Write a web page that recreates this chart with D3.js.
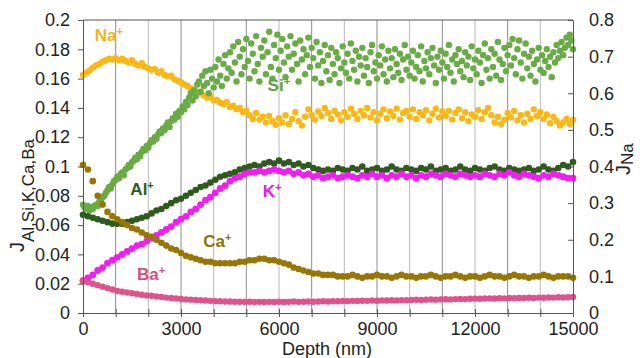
<!DOCTYPE html>
<html>
<head>
<meta charset="utf-8">
<script src="https://cdn.jsdelivr.net/npm/d3@7"></script>
<style>
  body { margin: 0; background: #fff; }
  svg { display: block; }
  text { font-family: "Liberation Sans", Arial, sans-serif; }
</style>
</head>
<body>
<svg id="chart"></svg>
<script>
// depth sampling (nm) for each series
var stepMain = 150, stepNa = 100, stepSi = 50;

// J_Ba (left axis)
var ba = [0.022,0.021,0.020,0.019,0.018,0.017,0.016,0.015,0.0145,0.014,
  0.0135,0.013,0.0125,0.012,0.0118,0.0113,0.011,0.0105,0.0102,0.0099,
  0.0096,0.0093,0.0091,0.0089,0.0087,0.0085,0.0083,0.0081,0.0080,0.0079,
  0.0078,0.0077,0.0077,0.0076,0.0077,0.0075,0.0076,0.0075,0.0076,0.0075,
  0.0077,0.0075,0.0076,0.0078,0.0076,0.0077,0.0079,0.0077,0.0078,0.0080,
  0.0079,0.0081,0.0080,0.0082,0.0081,0.0083,0.0082,0.0084,0.0083,0.0085,
  0.0084,0.0086,0.0085,0.0087,0.0086,0.0088,0.0087,0.0089,0.0090,0.0089,
  0.0091,0.0092,0.0091,0.0093,0.0094,0.0093,0.0095,0.0096,0.0095,0.0097,
  0.0098,0.0097,0.0099,0.0100,0.0099,0.0101,0.0100,0.0102,0.0101,0.0103,
  0.0102,0.0104,0.0103,0.0105,0.0104,0.0106,0.0105,0.0107,0.0106,0.0108,
  0.0110];

// J_Ca (left axis)
var ca = [0.101,0.098,0.090,0.080,0.074,0.069,0.066,0.064,0.062,0.060,
  0.058,0.057,0.055,0.053,0.052,0.050,0.048,0.046,0.044,0.043,
  0.041,0.039,0.038,0.037,0.036,0.035,0.035,0.034,0.034,0.034,
  0.034,0.034,0.035,0.035,0.036,0.036,0.037,0.037,0.036,0.036,
  0.035,0.034,0.033,0.031,0.030,0.029,0.028,0.027,0.027,0.026,
  0.026,0.026,0.025,0.025,0.025,0.026,0.025,0.024,0.025,0.025,
  0.026,0.025,0.025,0.024,0.025,0.026,0.025,0.025,0.024,0.025,
  0.025,0.026,0.025,0.024,0.025,0.025,0.026,0.025,0.024,0.025,
  0.025,0.024,0.025,0.026,0.025,0.025,0.024,0.025,0.026,0.025,
  0.025,0.024,0.025,0.025,0.026,0.025,0.024,0.025,0.025,0.025,
  0.024];

// J_K (left axis)
var k = [0.022,0.024,0.026,0.029,0.031,0.034,0.036,0.038,0.040,0.042,
  0.044,0.046,0.047,0.049,0.051,0.053,0.055,0.057,0.059,0.062,
  0.064,0.066,0.069,0.071,0.074,0.077,0.079,0.082,0.085,0.087,
  0.090,0.092,0.093,0.095,0.096,0.096,0.097,0.096,0.097,0.098,
  0.097,0.096,0.097,0.095,0.096,0.094,0.095,0.093,0.094,0.092,
  0.093,0.094,0.092,0.093,0.094,0.093,0.092,0.094,0.093,0.095,
  0.093,0.094,0.092,0.094,0.093,0.095,0.093,0.094,0.092,0.094,
  0.093,0.095,0.094,0.093,0.095,0.094,0.093,0.095,0.094,0.093,
  0.094,0.093,0.095,0.094,0.093,0.095,0.094,0.096,0.094,0.093,
  0.095,0.094,0.093,0.092,0.094,0.093,0.095,0.094,0.093,0.092,
  0.092];

// J_Al (left axis)
var al = [0.067,0.066,0.065,0.064,0.063,0.062,0.061,0.061,0.061,0.062,
  0.063,0.064,0.065,0.066,0.068,0.070,0.071,0.073,0.075,0.077,
  0.078,0.080,0.082,0.084,0.086,0.087,0.089,0.091,0.093,0.094,
  0.095,0.096,0.098,0.099,0.100,0.101,0.100,0.102,0.103,0.102,
  0.104,0.102,0.103,0.101,0.102,0.100,0.101,0.099,0.098,0.097,
  0.098,0.097,0.099,0.098,0.097,0.099,0.098,0.100,0.097,0.098,
  0.099,0.097,0.098,0.100,0.098,0.097,0.099,0.098,0.097,0.099,
  0.098,0.100,0.097,0.098,0.099,0.097,0.098,0.100,0.098,0.097,
  0.099,0.098,0.097,0.099,0.100,0.098,0.097,0.099,0.098,0.097,
  0.098,0.099,0.097,0.098,0.100,0.098,0.097,0.099,0.101,0.100,
  0.103];

// J_Si (left axis), every 50 nm
var si = [0.074,0.072,0.071,0.073,0.070,0.072,0.071,0.073,0.074,0.073,
  0.076,0.077,0.079,0.080,0.082,0.084,0.086,0.085,0.088,0.090,
  0.091,0.093,0.092,0.095,0.096,0.094,0.098,0.099,0.101,0.100,
  0.103,0.104,0.106,0.105,0.108,0.107,0.110,0.112,0.111,0.114,
  0.113,0.116,0.118,0.117,0.120,0.119,0.122,0.124,0.123,0.126,
  0.125,0.128,0.130,0.127,0.131,0.133,0.132,0.136,0.134,0.138,
  0.137,0.141,0.139,0.144,0.142,0.147,0.150,0.145,0.152,0.148,
  0.156,
  0.158,0.151,0.162,0.155,0.165,0.157,0.150,0.166,0.160,0.154,
  0.168,0.158,0.173,0.162,0.155,0.170,0.176,0.160,0.167,0.178,
  0.164,0.182,0.171,0.158,0.185,0.175,0.163,0.180,0.168,0.187,
  0.172,0.160,0.184,0.177,0.165,0.189,0.170,0.158,0.181,0.175,
  0.186,0.163,0.178,0.192,0.168,0.160,0.183,0.174,0.190,0.166,
  0.179,0.187,0.171,0.161,0.182,0.175,0.189,0.166,0.177,0.184,
  0.170,0.158,0.186,0.173,0.180,0.163,0.176,0.188,0.168,0.181,
  0.174,0.160,0.185,0.169,0.178,0.157,0.172,0.183,0.165,0.176,
  0.159,0.181,0.170,0.163,0.178,0.174,0.157,0.167,0.182,0.171,
  0.164,0.177,0.160,0.184,0.172,0.166,0.179,0.158,0.175,0.169,
  0.181,0.162,0.174,0.168,0.157,0.178,0.183,0.165,0.171,0.160,
  0.176,0.169,0.182,0.163,0.173,0.158,0.179,0.167,0.174,0.161,
  0.180,0.170,0.164,0.177,0.159,0.173,0.183,0.166,0.175,0.162,
  0.171,0.179,0.160,0.168,0.176,0.165,0.182,0.158,0.172,0.167,
  0.178,0.163,0.174,0.181,0.169,0.157,0.175,0.166,0.179,0.171,
  0.160,0.177,0.168,0.183,0.164,0.173,0.158,0.176,0.170,0.180,
  0.165,0.172,0.161,0.178,0.169,0.175,0.159,0.182,0.167,0.173,
  0.163,0.179,0.171,0.157,0.176,0.184,0.166,0.174,0.160,0.180,
  0.168,0.177,0.162,0.185,0.173,0.159,0.170,0.181,0.165,0.176,
  0.183,0.169,0.187,0.174,0.163,0.180,0.186,0.171,0.160,0.177,
  0.184,0.167,0.175,0.162,0.179,0.170,0.158,0.173,0.181,0.166,
  0.176,0.164,0.172,0.180,0.168,0.175,0.161,0.178,0.171,0.183,
  0.174,0.179,0.185,0.176,0.181,0.188,0.183,0.190,0.186,0.180];

// J_Na (right axis), every 100 nm
var na = [0.650,0.656,0.662,0.670,0.676,0.680,0.686,0.690,0.694,0.692,0.696,
  0.690,0.694,0.688,0.684,0.690,0.680,0.676,0.682,0.672,0.668,
  0.664,0.666,0.656,0.660,0.650,0.646,0.648,0.638,0.634,0.630,
  0.624,0.620,0.614,0.610,0.604,0.600,0.594,0.588,0.590,0.580,
  0.582,0.574,0.570,0.576,0.562,0.566,0.556,0.560,0.548,0.552,
  0.540,0.530,0.546,0.528,0.536,0.520,0.538,0.524,0.514,0.532,
  0.520,0.540,0.516,0.530,0.548,0.524,0.512,0.536,0.556,0.540,
  0.528,0.550,0.538,0.560,0.546,0.530,0.552,0.542,0.526,0.548,
  0.536,0.558,0.544,0.530,0.552,0.540,0.560,0.534,0.548,0.526,
  0.544,0.556,0.532,0.550,0.538,0.558,0.528,0.546,0.552,0.536,
  0.556,0.530,0.548,0.540,0.554,0.526,0.544,0.558,0.534,0.550,
  0.538,0.552,0.528,0.546,0.556,0.532,0.548,0.524,0.542,0.536,
  0.554,0.530,0.548,0.560,0.540,0.520,0.536,0.516,0.528,0.546,
  0.534,0.552,0.526,0.540,0.520,0.544,0.530,0.556,0.538,0.548,
  0.530,0.542,0.518,0.536,0.524,0.512,0.520,0.530,0.516,0.528];

var gridDepths = [1000,2000,3000,4000,5000,6000,7000,8000,9000,10000,11000,12000,13000,14000];
var xTicks = [0,1000,2000,3000,4000,5000,6000,7000,8000,9000,10000,11000,12000,13000,14000,15000];
var xLabelEvery = 3000;
var leftTicks = [0,0.02,0.04,0.06,0.08,0.1,0.12,0.14,0.16,0.18,0.2];
var rightTicks = [0,0.1,0.2,0.3,0.4,0.5,0.6,0.7,0.8];

var labels = [
  {name: "Na", depth: 360, val: 0.1855, color: "#f5b21a"},
  {name: "Si", depth: 5650, val: 0.1515, color: "#5f9e3c"},
  {name: "Al", depth: 1450, val: 0.0808, color: "#2f5a1f"},
  {name: "K",  depth: 5500, val: 0.0790, color: "#e020de"},
  {name: "Ca", depth: 3680, val: 0.0450, color: "#8d7205"},
  {name: "Ba", depth: 1650, val: 0.0225, color: "#d9507e"}
];

var W = 640, H = 358;
var margin = {top: 20, right: 67, bottom: 45, left: 83};
var svg = d3.select("#chart").attr("width", W).attr("height", H);

var x = d3.scaleLinear().domain([0, 15000]).range([margin.left, W - margin.right]);
var yL = d3.scaleLinear().domain([0, 0.2]).range([H - margin.bottom, margin.top]);
var yR = d3.scaleLinear().domain([0, 0.8]).range([H - margin.bottom, margin.top]);

// vertical grid
svg.append("g").selectAll("line").data(gridDepths).enter().append("line")
  .attr("x1", function(d) { return x(d); }).attr("x2", function(d) { return x(d); })
  .attr("y1", yL(0)).attr("y2", yL(0.2))
  .attr("stroke", function(d, i) { return i % 2 == 0 ? "#8c8c8c" : "#b8b8b8"; })
  .attr("stroke-width", 1);

// top border
svg.append("line")
  .attr("x1", x(0)).attr("x2", x(15000)).attr("y1", yL(0.2)).attr("y2", yL(0.2))
  .attr("stroke", "#555");

function dots(values, step, yScale, color, r) {
  svg.append("g").selectAll("circle").data(values).enter().append("circle")
    .attr("cx", function(d, i) { return x(i * step); })
    .attr("cy", function(d) { return yScale(d); })
    .attr("r", r)
    .attr("fill", color);
}
dots(na, stepNa, yR, "#fbb714", 3.2);
dots(si, stepSi, yL, "#69ab45", 3.2);
dots(al, stepMain, yL, "#2e5b1d", 3.3);
dots(k, stepMain, yL, "#f01ef0", 3.4);
dots(ca, stepMain, yL, "#977603", 3.3);
dots(ba, stepMain, yL, "#e0528a", 3.2);

// axes
var fs = "18px";
var xAxis = svg.append("g")
  .attr("transform", "translate(0," + yL(0) + ")")
  .call(d3.axisBottom(x).tickValues(xTicks).tickSize(4).tickPadding(5)
    .tickFormat(function(d) { return d % xLabelEvery == 0 ? d : ""; }));
xAxis.selectAll(".tick line").attr("y1", -4);

var yAxisL = svg.append("g")
  .attr("transform", "translate(" + x(0) + ",0)")
  .call(d3.axisLeft(yL).tickValues(leftTicks).tickSize(5).tickPadding(8)
    .tickFormat(d3.format("~g")));

var yAxisR = svg.append("g")
  .attr("transform", "translate(" + x(15000) + ",0)")
  .call(d3.axisRight(yR).tickValues(rightTicks).tickSize(-5).tickPadding(16)
    .tickFormat(d3.format("~g")));

svg.selectAll(".domain").attr("stroke", "#555");
svg.selectAll(".tick line").attr("stroke", "#555");
svg.selectAll(".tick text").style("font-size", fs).attr("fill", "#222");

// axis titles
svg.append("text")
  .attr("x", x(7500) - 1).attr("y", 355)
  .attr("text-anchor", "middle").style("font-size", fs).attr("fill", "#222")
  .text("Depth (nm)");

var tl = svg.append("text")
  .attr("transform", "translate(24,252) rotate(-90)")
  .attr("fill", "#222").style("font-size", "20px");
tl.append("tspan").text("J");
tl.append("tspan").attr("baseline-shift", "sub").style("font-size", "17px").text("Al,Si,K,Ca,Ba");

var tr = svg.append("text")
  .attr("transform", "translate(630,175) rotate(-90)")
  .attr("fill", "#222").style("font-size", "20px");
tr.append("tspan").text("J");
tr.append("tspan").attr("baseline-shift", "-3").style("font-size", "17px").text("Na");

// series labels
labels.forEach(function(l) {
  var t = svg.append("text")
    .attr("x", x(l.depth)).attr("y", yL(l.val))
    .attr("fill", l.color).style("font-size", "17px").style("font-weight", "bold");
  t.append("tspan").text(l.name);
  t.append("tspan").attr("baseline-shift", "super").style("font-size", "11px").text("+");
});
</script>
</body>
</html>
